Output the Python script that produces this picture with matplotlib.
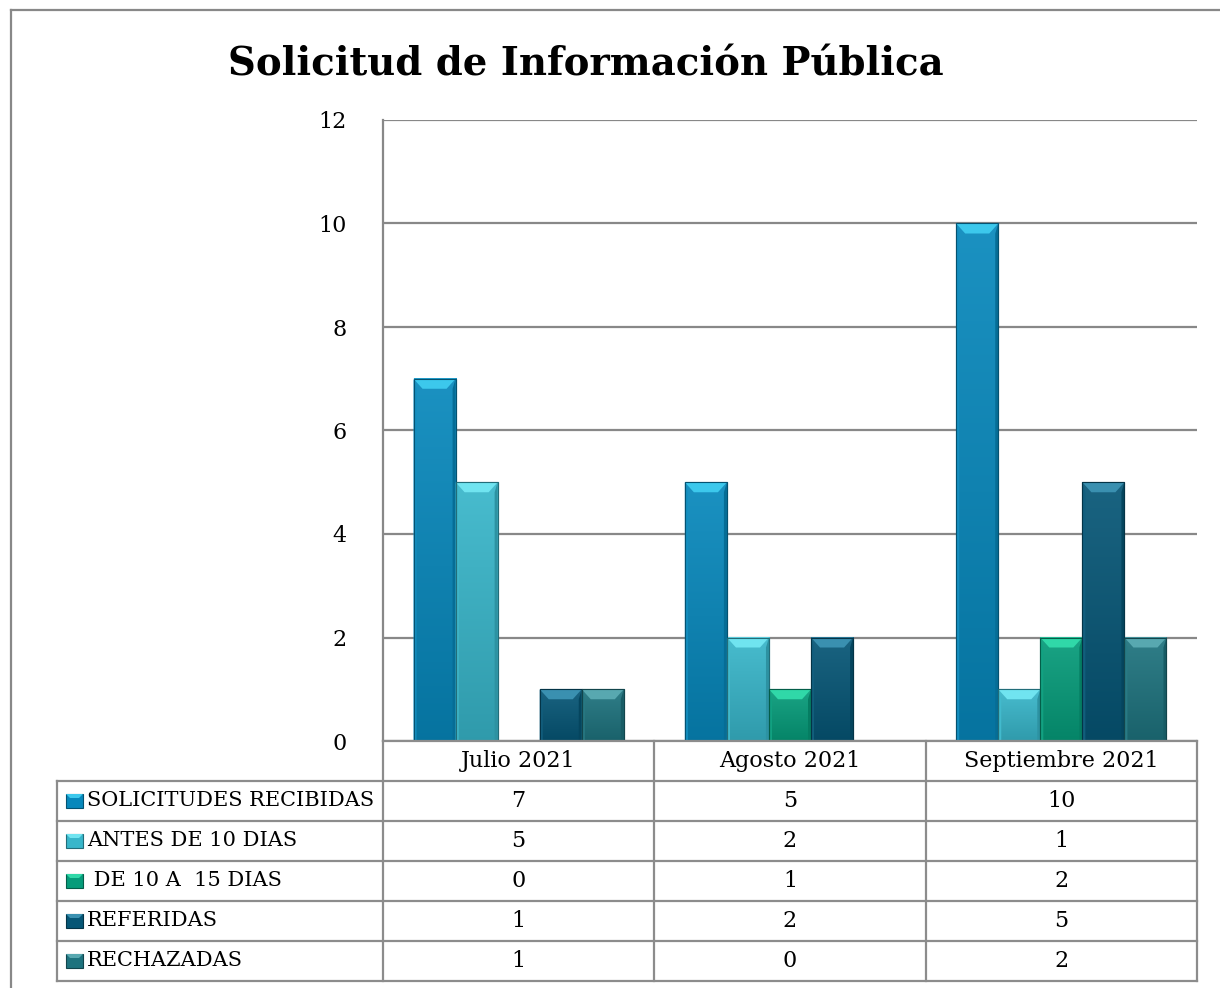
import matplotlib
matplotlib.use("Agg")
import matplotlib.pyplot as plt
import numpy as np
from matplotlib.patches import Rectangle, Polygon
from matplotlib.colors import to_rgb

# ---- data ----
categories = ["Julio 2021", "Agosto 2021", "Septiembre 2021"]
series_names = ["SOLICITUDES RECIBIDAS", "ANTES DE 10 DIAS", " DE 10 A  15 DIAS", "REFERIDAS", "RECHAZADAS"]
solicitudes = [7, 5, 10]
antes_10 = [5, 2, 1]
de_10_15 = [0, 1, 2]
referidas = [1, 2, 5]
rechazadas = [1, 0, 2]
series_values = [solicitudes, antes_10, de_10_15, referidas, rechazadas]
colors = ["#0788BC", "#38B6CA", "#069C7A", "#065676", "#1E737E"]
highlights = ["#3CC8EC", "#70E4F0", "#30D8A8", "#3A90B0", "#58A8B0"]
y_ticks = [0, 2, 4, 6, 8, 10, 12]
title = "Solicitud de Información Pública"

W, H = 1220, 988
fig = plt.figure(figsize=(W / 100, H / 100), dpi=100)
FONT = "DejaVu Serif"
plt.rcParams["font.family"] = FONT

def fx(px):
    return px / W

def fy(py):
    return 1 - py / H

# outer border (top and left)
fig.add_artist(plt.Line2D([fx(11), fx(1220)], [fy(10), fy(10)], color="#888888", lw=1.6))
fig.add_artist(plt.Line2D([fx(11), fx(11)], [fy(10), fy(988)], color="#888888", lw=1.6))

fig.text(fx(586), fy(65), title, ha="center", va="center", fontsize=27.8,
         fontweight="bold", family=FONT)

# ---- plot area ----
L, R, T, B = 383, 1197, 120, 741
ax = fig.add_axes([fx(L), fy(B), fx(R - L), (B - T) / H])
ax.set_xlim(0, len(categories))
ax.set_ylim(0, 12)
ax.set_yticks(y_ticks)
ax.set_yticklabels([str(t) for t in y_ticks], fontsize=16, family=FONT)
ax.tick_params(axis="y", length=0, pad=26)
ax.set_xticks([])
for s in ["top", "right", "bottom"]:
    ax.spines[s].set_visible(False)
ax.spines["left"].set_color("#888888")
ax.spines["left"].set_linewidth(1.6)
ax.yaxis.grid(True, color="#888888", lw=1.6)
ax.set_axisbelow(True)

nser = len(series_values)
bw = 0.155
start = (1 - nser * bw) / 2
px_y = 12 / (B - T)
px_x = len(categories) / (R - L)

def lighten(c, f):
    r = np.array(to_rgb(c))
    return tuple(r + (1 - r) * f)

def darken(c, f):
    r = np.array(to_rgb(c))
    return tuple(r * (1 - f))

for i, (vals, col, hl) in enumerate(zip(series_values, colors, highlights)):
    xs = np.arange(len(categories)) + start + i * bw
    ax.bar(xs, vals, width=bw, align="edge", color=col,
           edgecolor=darken(col, 0.35), linewidth=0.8, zorder=3)
    for x0, v in zip(xs, vals):
        if v <= 0:
            continue
        grad = np.linspace(0, 1, 64).reshape(-1, 1)
        c_top = np.array(lighten(col, 0.08))
        c_bot = np.array(darken(col, 0.15))
        img = c_bot[None, None, :] * (1 - grad[:, :, None]) + c_top[None, None, :] * grad[:, :, None]
        ax.imshow(img, extent=[x0, x0 + bw, 0, v], origin="lower", aspect="auto",
                  zorder=3.5, interpolation="bilinear")
        bx, by = 9 * px_x, 10 * px_y
        sx = 3 * px_x
        top = Polygon([[x0, v], [x0 + bw, v], [x0 + bw - bx, v - by], [x0 + bx, v - by]],
                      closed=True, facecolor=hl, edgecolor="none", zorder=4)
        lside = Polygon([[x0, v], [x0 + sx, v - by], [x0 + sx, 0], [x0, 0]],
                        closed=True, facecolor=lighten(col, 0.05), edgecolor="none", zorder=4)
        rside = Polygon([[x0 + bw, v], [x0 + bw - sx, v - by], [x0 + bw - sx, 0], [x0 + bw, 0]],
                        closed=True, facecolor=darken(col, 0.2), edgecolor="none", zorder=4)
        for p in (top, lside, rside):
            ax.add_patch(p)
        ax.add_patch(Rectangle((x0, 0), bw, v, fill=False, edgecolor=darken(col, 0.4),
                               lw=0.8, zorder=5))
ax.set_xlim(0, len(categories))
ax.set_ylim(0, 12)

# ---- data table ----
TL, TB = 57, 981
tax = fig.add_axes([fx(TL), fy(TB), fx(R - TL), (TB - B) / H])
tax.set_xlim(TL, R)
tax.set_ylim(TB, B)
tax.axis("off")
lc = "#8c8c8c"
row_h = (TB - B) / 6.0
col_w = (R - L) / len(categories)
for j in range(len(categories) + 1):
    x = L + j * col_w
    tax.plot([x, x], [B, TB], color=lc, lw=1.6, clip_on=False)
tax.plot([L, R], [B, B], color=lc, lw=1.6, clip_on=False)
for k in range(1, 7):
    y = B + k * row_h
    tax.plot([TL, R], [y, y], color=lc, lw=1.6, clip_on=False)
tax.plot([TL, TL], [B + row_h, TB], color=lc, lw=1.6, clip_on=False)
for j, cat in enumerate(categories):
    tax.text(L + (j + 0.5) * col_w, B + 0.5 * row_h, cat, ha="center", va="center",
             fontsize=16, family=FONT)
for i, (name, vals, col, hl) in enumerate(zip(series_names, series_values, colors, highlights)):
    yc = B + (i + 1.5) * row_h
    tax.add_patch(Rectangle((66, yc - 7), 17, 14, facecolor=col,
                            edgecolor=darken(col, 0.4), lw=0.8))
    tax.add_patch(Polygon([[66, yc - 7], [83, yc - 7], [79, yc - 3], [70, yc - 3]],
                          facecolor=hl, edgecolor="none"))
    tax.text(87, yc, name, ha="left", va="center", fontsize=15, family=FONT)
    for j, v in enumerate(vals):
        tax.text(L + (j + 0.5) * col_w, yc, str(v), ha="center", va="center",
                 fontsize=16, family=FONT)

fig.savefig("out.png", dpi=100, facecolor="white")
